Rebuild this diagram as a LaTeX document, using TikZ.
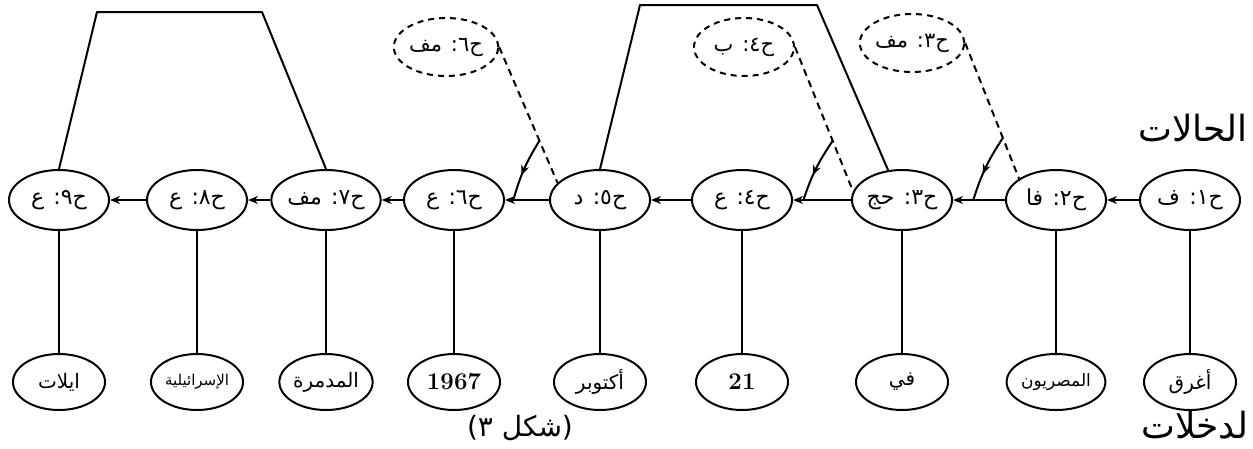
\documentclass[tikz,border=0pt]{standalone}
\usepackage{fontspec}
\usetikzlibrary{shapes.geometric,arrows.meta,decorations.markings}
\newfontfamily\arabicfont[Script=Arabic]{DejaVu Sans}
\TeXXeTstate=1
\newcommand{\artxt}[1]{{\arabicfont\beginR #1\endR}}
\begin{document}
\begin{tikzpicture}[x=1pt,y=-1pt,
  st/.style={ellipse, draw, line width=2pt, minimum width=100pt, minimum height=60pt, inner sep=0pt, font=\fontsize{22}{24}\selectfont},
  inp/.style={ellipse, draw, line width=2pt, minimum width=92pt, minimum height=56pt, inner sep=0pt, font=\fontsize{20}{22}\selectfont},
  hyp/.style={ellipse, draw, dash pattern=on 6pt off 5pt, line width=2pt, minimum width=100pt, minimum height=58pt, inner sep=0pt, font=\fontsize{21}{23}\selectfont},
  link/.style={line width=2pt},
  tr/.style={line width=2pt, -{Stealth[length=10pt,width=8pt]}},
  dl/.style={line width=2pt, dash pattern=on 7pt off 5pt},
  hook/.style={line width=2pt, postaction={decorate}, decoration={markings, mark=at position 0.6 with {\arrow{Stealth[length=10pt,width=8pt]}}}},
  lbl/.style={font=\fontsize{36}{38}\selectfont, inner sep=0pt}
]
\useasboundingbox (0,0) rectangle (1253,448);

% states
\node[st] (n1) at (1190,200) {\artxt{ح١: ف}};
\node[st] (n2) at (1056,200) {\artxt{ح٢: فا}};
\node[st] (n3) at (902,200) {\artxt{ح٣: حج}};
\node[st] (n4) at (742,200) {\artxt{ح٤: ع}};
\node[st] (n5) at (600,200) {\artxt{ح٥: د}};
\node[st] (n6) at (454,200) {\artxt{ح٦: ع}};
\node[st] (n7) at (326,200) {\artxt{ح٧: مف}};
\node[st] (n8) at (197,200) {\artxt{ح٨: ع}};
\node[st] (n9) at (59,200) {\artxt{ح٩: ع}};

% inputs
\node[inp] (i1) at (1190,382) {\artxt{أغرق}};
\node[inp] (i2) at (1056,382) {\fontsize{17}{19}\selectfont\artxt{المصريون}};
\node[inp] (i3) at (902,382) {\artxt{في}};
\node[inp] (i4) at (742,382) {\fontsize{24}{26}\selectfont\textbf{21}};
\node[inp] (i5) at (600,382) {\artxt{أكتوبر}};
\node[inp] (i6) at (454,382) {\fontsize{24}{26}\selectfont\textbf{1967}};
\node[inp] (i7) at (326,382) {\artxt{المدمرة}};
\node[inp] (i8) at (197,382) {\fontsize{15}{17}\selectfont\artxt{الإسرائيلية}};
\node[inp] (i9) at (59,382) {\artxt{ايلات}};

% dashed hypotheses
\node[hyp] (d6) at (446,47) {\artxt{ح٦: مف}};
\node[hyp] (d4) at (744,47) {\artxt{ح٤: ب}};
\node[hyp] (d3) at (912,43) {\artxt{ح٣: مف}};

% transitions
\foreach \a/\b in {n1/n2,n2/n3,n3/n4,n4/n5,n5/n6,n6/n7,n7/n8,n8/n9}
  \draw[tr] (\a) -- (\b);

% vertical links
\foreach \k in {1,...,9}
  \draw[link] (n\k) -- (i\k);

% trapezoids
\coordinate (t1) at (97,12);
\coordinate (t2) at (262,12);
\coordinate (t3) at (640,5);
\coordinate (t4) at (817,5);
\draw[link, line join=round] (n9.north) -- (t1) -- (t2) -- (n7.north);
\draw[link, line join=round] (n5.north) -- (t3) -- (t4) -- (n3.115);

% dashed lines
\draw[dl] (d6.east) -- (n5.158) coordinate[pos=0.69] (c6);
\draw[dl] (d4.east) -- (n3.170) coordinate[pos=0.65] (c4);
\draw[dl] (d3.east) -- (n2.150) coordinate[pos=0.70] (c3);

% points on transitions
\path (n5.west) -- (n6.east) coordinate[pos=0.81] (h6);
\path (n3.west) -- (n4.east) coordinate[pos=0.82] (h4);
\path (n2.west) -- (n3.east) coordinate[pos=0.61] (h3);

\draw[hook] (c6) to[bend right=8] (h6);
\draw[hook] (c4) to[bend right=8] (h4);
\draw[hook] (c3) to[bend right=8] (h3);

% labels
\node[lbl] (L1) at (1193,128) {\artxt{الحالات}};
\node[lbl] (L2) at (1195,425) {\artxt{لدخلات}};
\node[lbl, font=\fontsize{28}{30}\selectfont] (L3) at (520,428) {\artxt{(شكل ٣)}};
\end{tikzpicture}
\end{document}
